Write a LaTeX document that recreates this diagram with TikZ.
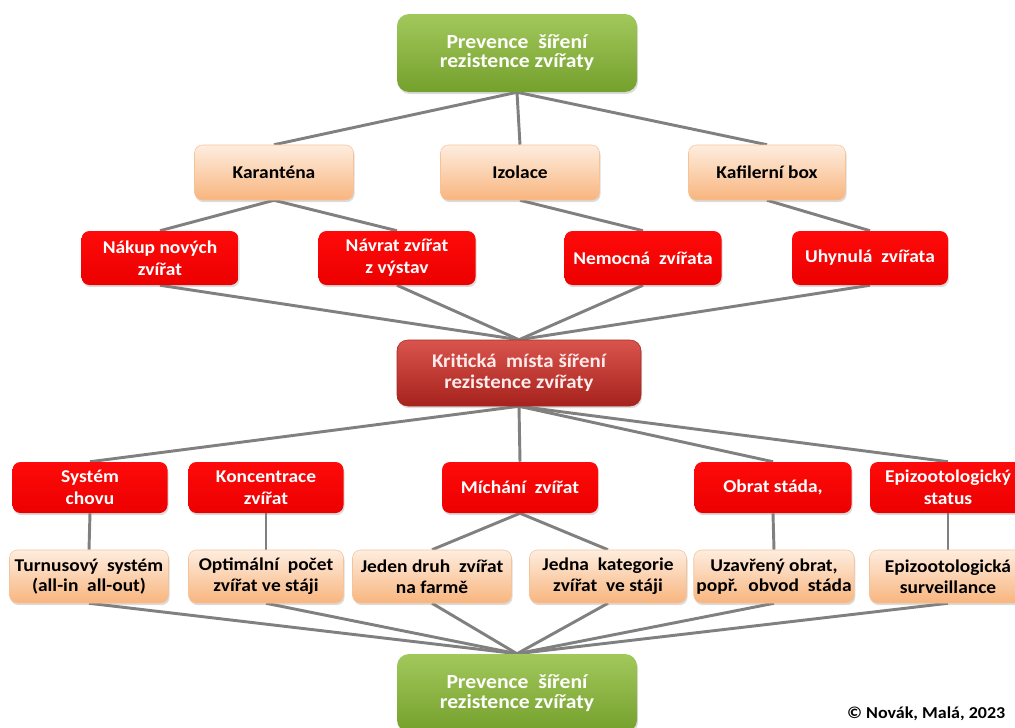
\documentclass[tikz,border=0pt]{standalone}
\usepackage{fontspec}
\setmainfont{Carlito}[FakeStretch=1.08]
\usetikzlibrary{shadows,backgrounds}

\definecolor{lineGray}{HTML}{808080}
\definecolor{greenTop}{HTML}{A2C85C}
\definecolor{greenBot}{HTML}{74A02C}
\definecolor{peachTop}{HTML}{FEEDDF}
\definecolor{peachBot}{HTML}{F8B57E}
\definecolor{peachEdge}{HTML}{F5C39A}
\definecolor{redTop}{HTML}{FF0A0A}
\definecolor{redBot}{HTML}{EC0000}
\definecolor{critTop}{HTML}{D9544D}
\definecolor{critBot}{HTML}{A6221C}
\definecolor{critEdge}{HTML}{A52A25}

\tikzset{
  sz/.style 2 args={minimum width=#1*0.75pt, minimum height=#2*0.75pt},
  base/.style={rounded corners=6pt, inner sep=2pt, align=center,
    font=\bfseries, drop shadow={shadow xshift=0.8pt, shadow yshift=-1.6pt, opacity=0.28}},
  goalbox/.style={base, rounded corners=9pt, top color=greenTop, bottom color=greenBot,
    text=white, font=\bfseries\fontsize{15}{14.5}\selectfont},
  peachbox/.style={base, top color=peachTop, bottom color=peachBot, draw=peachEdge,
    line width=0.4pt, text=black, font=\bfseries\fontsize{13.5}{15.5}\selectfont},
  redbox/.style={base, top color=redTop, bottom color=redBot,
    text=white, font=\bfseries\fontsize{13.5}{16.5}\selectfont},
  critbox/.style={base, rounded corners=8pt, top color=critTop, bottom color=critBot,
    draw=critEdge, line width=0.4pt, text=white!92!red,
    font=\bfseries\fontsize{14.5}{15.5}\selectfont},
  link/.style={draw=lineGray, line width=2.2pt}
}

\begin{document}
\begin{tikzpicture}[x=0.75pt, y=-0.75pt]
\useasboundingbox (0,0) rectangle (1015,728);

% goal at the top
\node[goalbox, sz={240}{78}] (topg) at (517,53) {Prevence~ šíření\\rezistence zvířaty};

% measures
\node[peachbox, sz={159}{55}] (kar) at (274,172.5) {Karanténa};
\node[peachbox, sz={159}{55}] (iz)  at (520,172.5) {Izolace};
\node[peachbox, sz={157}{55}] (kaf) at (767,172.5) {Kafilerní box};

% animals concerned
\node[redbox, sz={157}{54}] (nak) at (160,258) {Nákup nových\\zvířat};
\node[redbox, sz={157}{54}] (nav) at (397,258) {Návrat zvířat\\z výstav};
\node[redbox, sz={157}{54}] (nem) at (643,258) {Nemocná~ zvířata};
\node[redbox, sz={156}{54}] (uhy) at (870,258) {Uhynulá~ zvířata};

% central node
\node[critbox, sz={244}{66}] (kri) at (519,373) {Kritická~ místa šíření\\rezistence zvířaty};

% critical points
\node[redbox, sz={155}{51}] (sys)  at (90,487.5)  {Systém\\chovu};
\node[redbox, sz={155}{51}] (kon)  at (266,487.5) {Koncentrace\\zvířat};
\node[redbox, sz={156}{51}] (mich) at (520,487.5) {Míchání~ zvířat};
\node[redbox, sz={157}{51}] (obr)  at (773,487.5) {Obrat stáda,};
\node[redbox, sz={156}{51}] (epi)  at (948,487.5) {Epizootologický\\status};

% preventive practices
\node[peachbox, sz={159}{53}] (tur) at (89,576.5)  {Turnusový~ systém\\(all-in~ all-out)};
\node[peachbox, sz={155}{53}] (opt) at (266,576.5) {Optimální~ počet\\zvířat ve stáji};
\node[peachbox, sz={159}{53}] (jed) at (432,576.5) {Jeden druh~ zvířat\\na farmě};
\node[peachbox, sz={157}{53}] (jna) at (608,576.5) {Jedna~ kategorie\\zvířat~ ve stáji};
\node[peachbox, sz={157}{53}] (uza) at (774,576.5) {Uzavřený obrat,\\popř.~ obvod~ stáda};
\node[peachbox, sz={157}{53}] (eps) at (948,576.5) {Epizootologická\\surveillance};

% goal at the bottom
\node[goalbox, sz={240}{78}] (botg) at (517,693) {Prevence~ šíření\\rezistence zvířaty};

\node[anchor=east, font=\bfseries\fontsize{12.5}{14}\selectfont] (copy) at (1010,714) {© Novák, Malá, 2023};

\begin{scope}[on background layer]
  \foreach \c in {kar,iz,kaf} \draw[link] (topg.south) -- (\c.north);
  \draw[link] (kar.south) -- (nak.north);
  \draw[link] (kar.south) -- (nav.north);
  \draw[link] (iz.south) -- (nem.north);
  \draw[link] (kaf.south) -- (uhy.north);
  \foreach \c in {nak,nav,nem,uhy} \draw[link] (\c.south) -- (kri.north);
  \foreach \c in {sys,mich,obr,epi} \draw[link] (kri.south) -- (\c.north);
  \draw[link] (sys.south) -- (tur.north);
  \draw[link] (kon.south) -- (opt.north);
  \draw[link] (mich.south) -- (jed.north);
  \draw[link] (mich.south) -- (jna.north);
  \draw[link] (obr.south) -- (uza.north);
  \draw[link] (epi.south) -- (eps.north);
  \foreach \c in {tur,opt,jed,jna,uza,eps} \draw[link] (\c.south) -- (botg.north);
\end{scope}
\end{tikzpicture}
\end{document}
